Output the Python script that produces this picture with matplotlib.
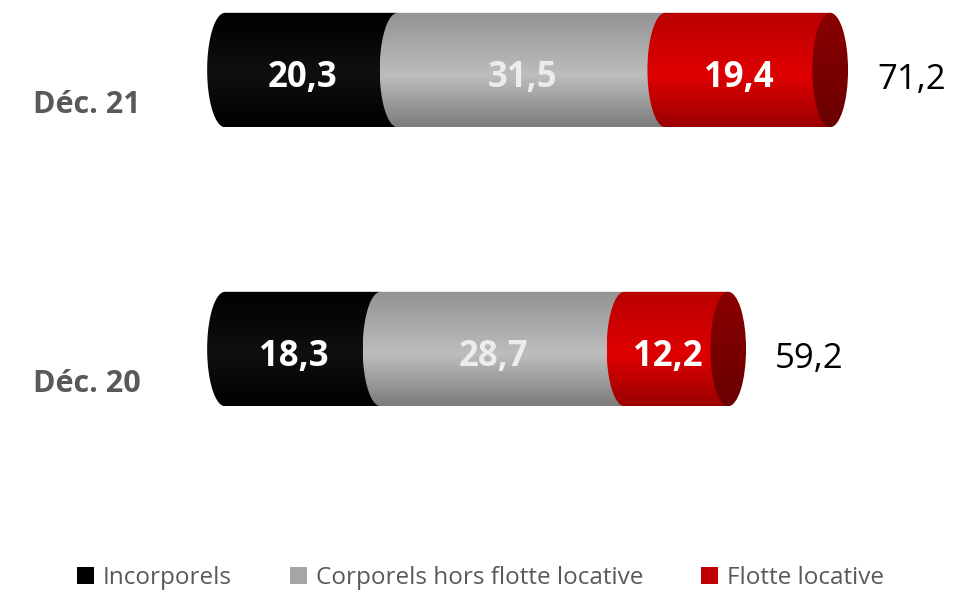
import numpy as np
import matplotlib.pyplot as plt
from matplotlib.colors import LinearSegmentedColormap
from matplotlib.patches import Ellipse, Patch
from matplotlib.path import Path

plt.rcParams['font.family'] = ['Open Sans', 'DejaVu Sans']

categories = ['Déc. 20', 'Déc. 21']
series_names = ['Incorporels', 'Corporels hors flotte locative', 'Flotte locative']
incorporels = [18.3, 20.3]
corporels = [28.7, 31.5]
flotte = [12.2, 19.4]
totals = [59.2, 71.2]

# (top, middle, bottom) shades for the cylinder look
shades = [
    ('#000000', '#101010', '#000000'),
    ('#939393', '#bdbdbd', '#7c7c7c'),
    ('#b80000', '#e00000', '#9a0000'),
]
legend_colors = ['#000000', '#a6a6a6', '#c00000']
label_colors = ['white', '#ececec', 'white']
face_color = ('#8a0000', '#6a0000')

BAR_H = 0.41     # bar height in category units
RX = 2.1         # half width of the end ellipses (value units)

fig = plt.figure(figsize=(9.61, 5.92), dpi=100)
ax = fig.add_axes([0, 0, 1, 1])
ax.axis('off')


def cyl_cmap(stops):
    return LinearSegmentedColormap.from_list('c', [(0, stops[0]), (0.55, stops[1]), (1, stops[2])])


def segment_path(x0, x1, yc):
    t = np.linspace(np.pi / 2, 3 * np.pi / 2, 60)
    xs = x0 + RX * np.cos(t)
    ys = yc + BAR_H / 2 * np.sin(t)
    pts = list(zip(xs, ys)) + [(x1, yc - BAR_H / 2), (x1, yc + BAR_H / 2), (xs[0], ys[0])]
    return Path(pts, closed=True)


grad = np.linspace(0, 1, 256).reshape(-1, 1)
series = [incorporels, corporels, flotte]

for i, cat in enumerate(categories):
    left = 0.0
    for k, vals in enumerate(series):
        v = vals[i]
        x0, x1 = left, left + v
        im = ax.imshow(grad, cmap=cyl_cmap(shades[k]), aspect='auto', origin='upper',
                       extent=(x0 - RX, x1, i - BAR_H / 2, i + BAR_H / 2), zorder=2 + k)
        clip = plt.Polygon(segment_path(x0, x1, i).vertices, transform=ax.transData)
        im.set_clip_path(clip)
        ax.text((x0 - RX + x1) / 2, i - 0.03, f'{v:.1f}'.replace('.', ','), color=label_colors[k],
                fontsize=25, fontweight='bold', ha='center', va='center', zorder=10)
        left = x1
    # visible end face
    imf = ax.imshow(grad, cmap=LinearSegmentedColormap.from_list('f', [face_color[0], face_color[1]]),
                    aspect='auto', origin='upper',
                    extent=(left - RX, left + RX, i - BAR_H / 2, i + BAR_H / 2), zorder=7)
    imf.set_clip_path(Ellipse((left, i), 2 * RX, BAR_H, transform=ax.transData))
    ax.text(left + RX + 3.4, i - 0.035, f'{totals[i]:.1f}'.replace('.', ','), color='black',
            fontsize=25, ha='left', va='center', zorder=10)
    ax.text(-9.9, i - 0.125, cat, color='#595959', fontsize=22, fontweight='bold',
            ha='right', va='center')

ax.set_xlim(-26.47, 86.59)
ax.set_ylim(-0.871, 1.251)

handles = [Patch(facecolor=c, edgecolor='none') for c in legend_colors]
fig.legend(handles, series_names, loc='center', bbox_to_anchor=(0.5, 1 - 578 / 592), ncol=3,
           frameon=False, fontsize=17.5, labelcolor='#595959', handlelength=0.7, handleheight=0.7,
           handletextpad=0.35, columnspacing=2.4)

fig.savefig('out.png', dpi=100)
